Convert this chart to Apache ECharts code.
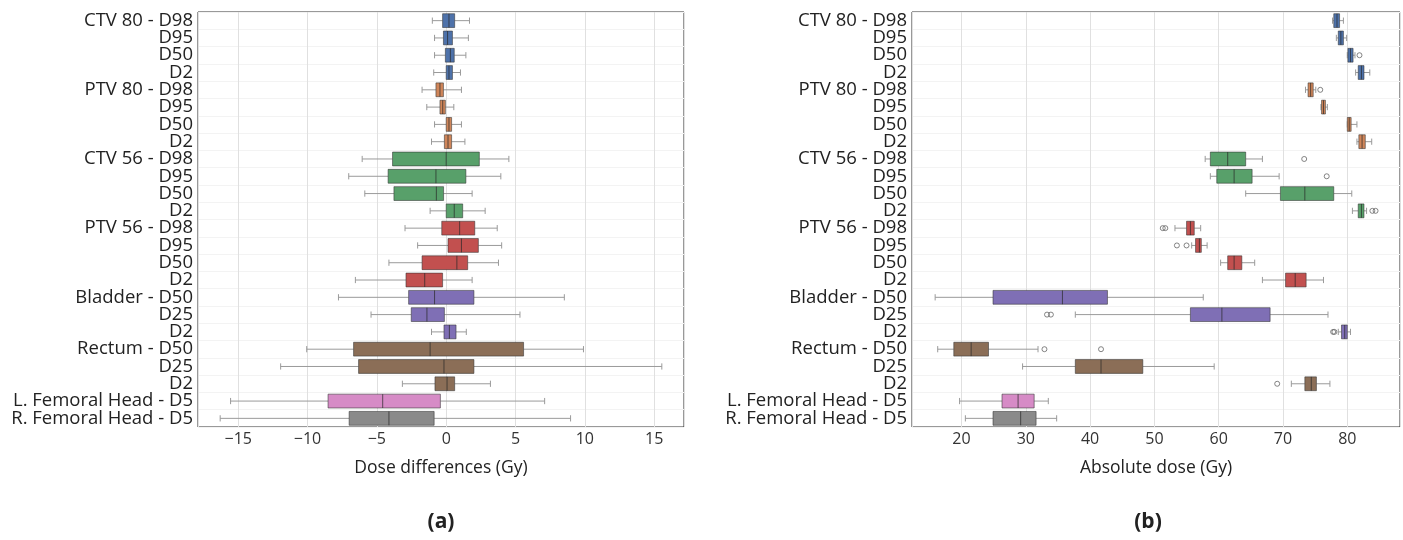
<!DOCTYPE html>
<html><head><meta charset="utf-8">
<script src="https://cdn.jsdelivr.net/npm/echarts@6/dist/echarts.min.js"></script>
<style>html,body{margin:0;padding:0;background:#fff}#c{width:1403px;height:540px}</style>
</head><body><div id="c"></div>
<script>
const labels = ['CTV 80 - D98','D95','D50','D2','PTV 80 - D98','D95','D50','D2',
  'CTV 56 - D98','D95','D50','D2','PTV 56 - D98','D95','D50','D2',
  'Bladder - D50','D25','D2','Rectum - D50','D25','D2','L. Femoral Head - D5','R. Femoral Head - D5'];
const groupOf = [0,0,0,0,1,1,1,1,2,2,2,2,3,3,3,3,4,4,4,5,5,5,6,7];
const palette = ['#4e72aa','#d0865a','#58a06a','#c2504f','#7f6fb5','#8b6e57','#d68bc6','#8a8a8a'];

// [whisker low, Q1, median, Q3, whisker high]
const diffBoxes = [
  [-1.0,-0.26,0.2,0.61,1.68],[-0.84,-0.2,0.1,0.45,1.6],[-0.84,-0.06,0.3,0.58,1.42],[-0.9,0.0,0.2,0.45,1.03],
  [-1.74,-0.74,-0.45,-0.2,1.1],[-1.4,-0.45,-0.25,-0.06,0.55],[-0.84,0.0,0.2,0.39,1.1],[-1.06,-0.13,0.13,0.39,1.35],
  [-6.06,-3.87,0.0,2.39,4.52],[-7.03,-4.19,-0.74,1.42,3.94],[-5.87,-3.77,-0.71,-0.19,1.87],[-1.16,0.0,0.58,1.19,2.81],
  [-2.97,-0.32,0.97,2.06,3.68],[-2.06,0.13,1.1,2.32,4.0],[-4.13,-1.74,0.77,1.55,3.77],[-6.55,-2.9,-1.55,-0.26,1.87],
  [-7.77,-2.71,-0.84,2.0,8.52],[-5.42,-2.52,-1.39,-0.13,5.32],[-1.06,-0.16,0.23,0.71,1.45],
  [-10.06,-6.68,-1.16,5.58,9.9],[-11.94,-6.32,-0.16,2.0,15.55],[-3.16,-0.81,0.06,0.61,3.19],
  [-15.55,-8.52,-4.58,-0.42,7.1],[-16.3,-7.0,-4.13,-0.87,8.97]
];
const absBoxes = [
  [77.7,77.9,78.4,78.8,79.4],[78.3,78.6,79.0,79.4,79.9],[80.0,80.1,80.5,80.9,81.2],[81.3,81.7,82.2,82.6,83.5],
  [73.5,73.9,74.3,74.7,75.1],[75.9,76.0,76.3,76.6,76.9],[80.0,80.0,80.3,80.6,81.5],[81.5,81.8,82.3,82.8,83.8],
  [57.9,58.7,61.4,64.2,66.8],[58.7,59.7,62.4,65.2,69.4],[64.2,69.6,73.4,77.9,80.7],[80.8,81.7,82.2,82.6,83.0],
  [53.2,55.0,55.6,56.2,57.2],[55.8,56.4,57.0,57.3,58.2],[60.3,61.4,62.4,63.6,65.6],[66.8,70.4,71.9,73.6,76.3],
  [15.9,24.9,35.7,42.7,57.6],[37.7,55.6,60.5,68.0,77.0],[78.6,79.1,79.6,80.0,80.5],
  [16.3,18.8,21.5,24.2,31.9],[29.5,37.7,41.7,48.2,59.3],[71.3,73.4,74.4,75.2,77.3],
  [19.7,26.3,28.8,31.3,33.5],[20.6,24.9,29.2,31.6,34.8]
];
const absOutlierValues = [81.9,75.8,73.3,76.8,83.9,84.4,51.3,51.7,53.5,55.0,33.3,33.9,77.8,78.0,32.9,41.7,69.1];
const absOutlierRows   = [2,4,8,9,11,11,12,12,13,13,17,17,18,18,19,19,21];

const FONT = 'Open Sans';

function boxRender(params, api) {
  const row = api.value(0);
  const lo = api.value(1), q1 = api.value(2), md = api.value(3), q3 = api.value(4), hi = api.value(5);
  const col = palette[groupOf[row]];
  const band = api.size([0, 1])[1];
  const h = band * 0.8, cap = h * 0.45;
  const y = api.coord([0, row])[1];
  const X = v => api.coord([v, row])[0];
  const ws = {stroke: '#9a9a9a', lineWidth: 1};
  return {type: 'group', children: [
    {type: 'line', shape: {x1: X(lo), y1: y, x2: X(q1), y2: y}, style: ws},
    {type: 'line', shape: {x1: X(q3), y1: y, x2: X(hi), y2: y}, style: ws},
    {type: 'line', shape: {x1: X(lo), y1: y - cap / 2, x2: X(lo), y2: y + cap / 2}, style: ws},
    {type: 'line', shape: {x1: X(hi), y1: y - cap / 2, x2: X(hi), y2: y + cap / 2}, style: ws},
    {type: 'rect', shape: {x: X(q1), y: y - h / 2, width: X(q3) - X(q1), height: h},
      style: {fill: col, stroke: 'rgba(50,50,50,0.55)', lineWidth: 1}},
    {type: 'line', shape: {x1: X(md), y1: y - h / 2, x2: X(md), y2: y + h / 2},
      style: {stroke: 'rgba(40,40,40,0.7)', lineWidth: 1}}
  ]};
}

function xAx(gi, min, max, split, name) {
  return {
    gridIndex: gi, type: 'value', min: min, max: max, splitNumber: split,
    axisLine: {show: false}, axisTick: {show: false},
    axisLabel: {fontSize: 16, color: '#333', margin: 4, fontFamily: FONT,
      showMinLabel: false, showMaxLabel: false,
      formatter: v => String(v).replace('-', '\u2212')},
    splitLine: {show: true, lineStyle: {color: '#e0e0e0', width: 1}},
    name: name, nameLocation: 'middle', nameGap: 32,
    nameTextStyle: {fontSize: 17.5, color: '#222', fontFamily: FONT}
  };
}
function yAx(gi) {
  return {
    gridIndex: gi, type: 'category', data: labels, inverse: true,
    axisLine: {show: false}, axisTick: {show: false},
    axisLabel: {fontSize: 18.5, color: '#222', margin: 5, fontFamily: FONT, interval: 0},
    splitLine: {show: true, lineStyle: {color: '#f3f3f3'}}
  };
}

const chart = echarts.init(document.getElementById('c'), null, {renderer: 'canvas'});
chart.setOption({
  animation: false,
  backgroundColor: '#fff',
  textStyle: {fontFamily: FONT},
  grid: [
    {left: 198, top: 12, width: 486, height: 415, show: true, borderColor: '#333', borderWidth: 1, backgroundColor: 'transparent'},
    {left: 912, top: 12, width: 488, height: 415, show: true, borderColor: '#333', borderWidth: 1, backgroundColor: 'transparent'}
  ],
  xAxis: [xAx(0, -17.9, 17.15, 7, 'Dose differences (Gy)'), xAx(1, 12.3, 88.2, 8, 'Absolute dose (Gy)')],
  yAxis: [yAx(0), yAx(1)],
  series: [
    {type: 'custom', xAxisIndex: 0, yAxisIndex: 0, renderItem: boxRender,
      encode: {y: 0, x: [1, 2, 3, 4, 5]},
      data: diffBoxes.map((b, i) => [i].concat(b))},
    {type: 'custom', xAxisIndex: 1, yAxisIndex: 1, renderItem: boxRender,
      encode: {y: 0, x: [1, 2, 3, 4, 5]},
      data: absBoxes.map((b, i) => [i].concat(b))},
    {type: 'scatter', xAxisIndex: 1, yAxisIndex: 1, symbol: 'circle', symbolSize: 5,
      itemStyle: {color: 'rgba(255,255,255,0)', borderColor: '#666', borderWidth: 1},
      data: absOutlierValues.map((v, i) => [v, absOutlierRows[i]])}
  ],
  graphic: [
    {type: 'text', x: 441, y: 522, style: {text: '(a)', font: 'bold 21px "' + FONT + '"', fill: '#222', textAlign: 'center', textVerticalAlign: 'middle'}},
    {type: 'text', x: 1148, y: 522, style: {text: '(b)', font: 'bold 21px "' + FONT + '"', fill: '#222', textAlign: 'center', textVerticalAlign: 'middle'}}
  ]
});
</script></body></html>
